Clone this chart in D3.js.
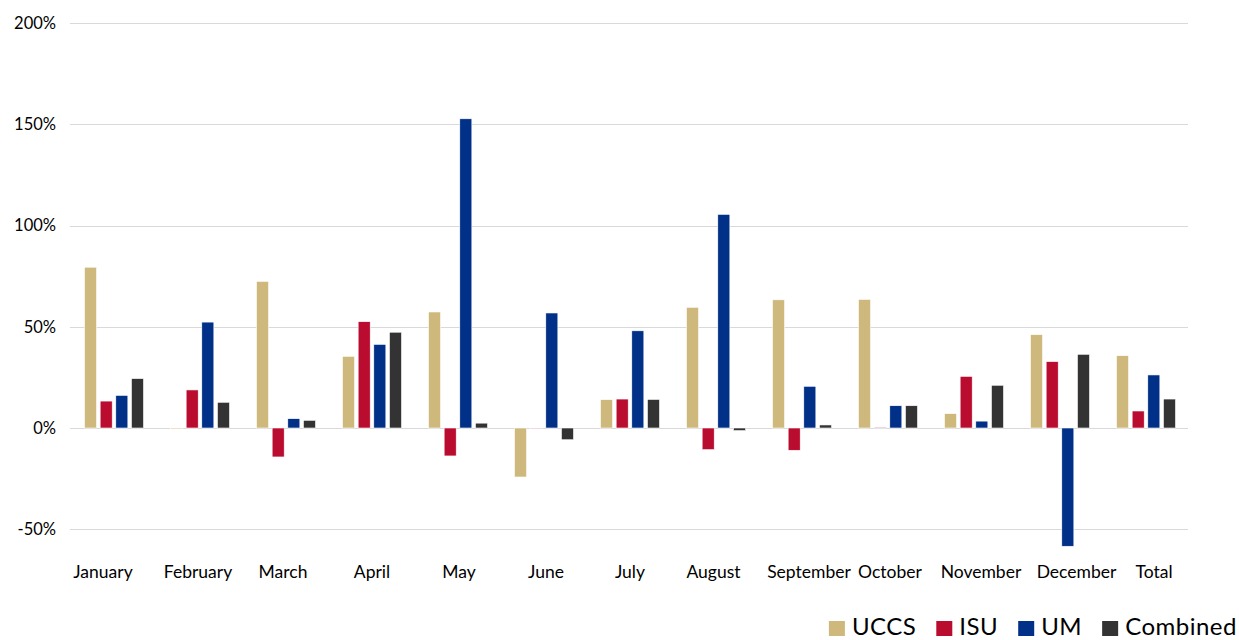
<!DOCTYPE html>
<html><head><meta charset="utf-8">
<script src="https://cdn.jsdelivr.net/npm/d3@7"></script>
<style>body{margin:0;background:#fff;} svg{display:block;font-family:Lato, "Open Sans", sans-serif;}</style>
</head><body>
<svg id="chart" width="1239" height="640"></svg>
<script>
const categories = ["January","February","March","April","May","June","July","August","September","October","November","December","Total"];
const seriesNames = ["UCCS","ISU","UM","Combined"];
const uccs     = [79.4, -0.5, 72.4, 35.4, 57.3, -24.2, 14.0, 59.6, 63.3, 63.5, 7.1, 46.1, 35.7];
const isu      = [13.3, 18.8, -14.3, 52.5, -13.8, -0.3, 14.3, -10.7, -11.0, 0.4, 25.5, 32.8, 8.4];
const um       = [16.1, 52.3, 4.6, 41.3, 152.7, 56.8, 48.0, 105.5, 20.6, 11.0, 3.4, -58.4, 26.2];
const combined = [24.4, 12.7, 3.8, 47.3, 2.4, -5.8, 14.1, -1.3, 1.5, 11.0, 21.1, 36.4, 14.3];
const yTicks = [-50, 0, 50, 100, 150, 200];
const colors = ["#CFB87C", "#BA0C2F", "#003087", "#333333"];

(function() {
const seriesValues = [uccs, isu, um, combined];
const data = categories.map((c, i) => ({cat: c, vals: seriesNames.map((s, j) => ({s, v: seriesValues[j][i], color: colors[j]}))}));
// small horizontal nudges of the category labels, as placed in the original
const labelShift = [-10, -1, -2, 1, 2, 3, 1, -1.5, 8, 3, 8, 17.5, 9];

const svg = d3.select("#chart");
const plotLeft = 70, plotRight = 1188;
const y = d3.scaleLinear().domain([-50, 200]).range([529.25, 23]);
const x0 = d3.scaleBand().domain(categories).range([plotLeft, plotRight]).padding(0);
const x1 = d3.scaleBand().domain(seriesNames).range([14.5, x0.bandwidth() - 12.5]).paddingInner(0.23).paddingOuter(0);

// gridlines
svg.append("g").selectAll("line").data(yTicks).join("line")
  .attr("x1", plotLeft).attr("x2", plotRight)
  .attr("y1", d => Math.round(y(d)) + 0.5).attr("y2", d => Math.round(y(d)) + 0.5)
  .attr("stroke", "#d9d9d9").attr("stroke-width", 1);

// y labels
svg.append("g").selectAll("text").data(yTicks).join("text")
  .attr("x", 56).attr("y", d => y(d)).attr("dy", "0.35em")
  .attr("text-anchor", "end").attr("font-size", 16.5).attr("fill", "#000")
  .text(d => d + "%");

// bars
const g = svg.append("g").selectAll("g").data(data).join("g")
  .attr("transform", d => `translate(${x0(d.cat)},0)`);
g.selectAll("rect").data(d => d.vals).join("rect")
  .attr("x", d => x1(d.s)).attr("width", x1.bandwidth())
  .attr("y", d => Math.min(y(d.v), y(0)))
  .attr("height", d => Math.max(0.8, Math.abs(y(d.v) - y(0))))
  .attr("fill", d => d.color)
  .attr("stroke", "#fff").attr("stroke-width", 0.6);

// x labels
svg.append("g").selectAll("text").data(categories).join("text")
  .attr("x", (d, i) => x0(d) + x0.bandwidth() / 2 + labelShift[i])
  .attr("y", 578)
  .attr("text-anchor", "middle")
  .attr("font-size", 17.5).attr("fill", "#000")
  .text(d => d);

// legend (right aligned)
const leg = svg.append("g");
const items = leg.selectAll("g").data(seriesNames).join("g");
items.append("rect").attr("width", 16).attr("height", 15).attr("y", 621)
  .attr("fill", (d, i) => colors[i]);
items.append("text").attr("x", 23).attr("y", 635).attr("font-size", 24)
  .attr("letter-spacing", 0.5).attr("fill", "#000").text(d => d);
let widths = [];
items.each(function() { widths.push(d3.select(this).select("text").node().getComputedTextLength()); });
let xpos = 1237;
const starts = [];
for (let i = seriesNames.length - 1; i >= 0; i--) {
  xpos -= widths[i] + 23;
  starts[i] = xpos;
  xpos -= 20;
}
items.attr("transform", (d, i) => `translate(${starts[i]},0)`);
})();
</script>
</body></html>
